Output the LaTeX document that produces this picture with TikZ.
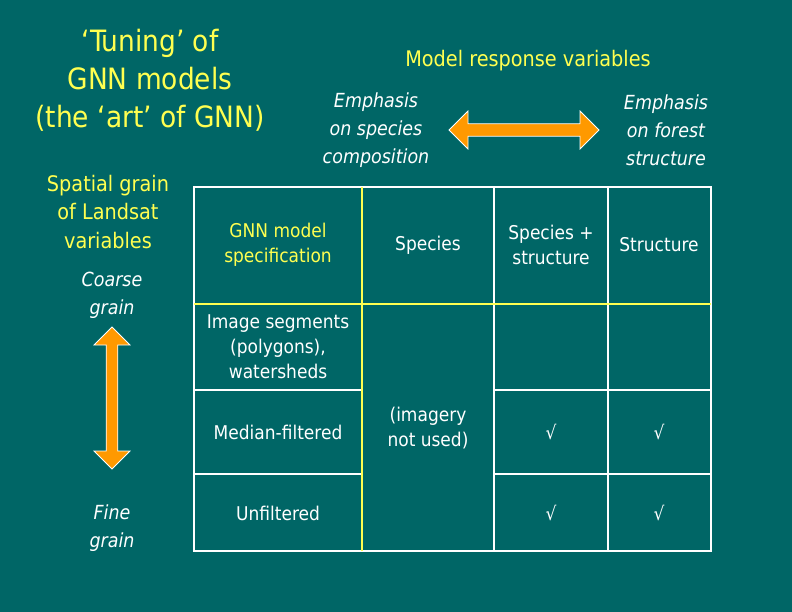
\documentclass[tikz,border=0pt]{standalone}
\usepackage{fontspec}
\setmainfont{DejaVu Sans Condensed}
\usetikzlibrary{shapes.arrows}
\definecolor{bg}{RGB}{0,102,102}
\definecolor{yl}{RGB}{255,255,80}
\definecolor{og}{RGB}{255,153,0}
\begin{document}
\begin{tikzpicture}[x=1bp,y=-1bp,
  t/.style={align=center,font=\fontsize{19}{25}\selectfont,text=white},
  ty/.style={t,text=yl},
  it/.style={align=center,font=\fontsize{19.5}{28}\selectfont\itshape,text=white},
  wl/.style={white,line width=1.6bp},
  yln/.style={yl,line width=1.6bp}]
\fill[bg] (0,0) rectangle (792,612);
\useasboundingbox (0,0) rectangle (792,612);
\node[ty,font=\fontsize{29.5}{38}\selectfont] (title) at (150,80) {‘Tuning’ of\\GNN models\\(the ‘art’ of GNN)};
\node[ty,font=\fontsize{21.5}{28}\selectfont] (mrv) at (528,61) {Model response variables};
\node[it] (es) at (376,130) {Emphasis\\on species\\composition};
\node[it] (ef) at (666,130) {Emphasis\\on forest\\structure};
\node[ty,font=\fontsize{21.5}{29}\selectfont] (sg) at (108,212) {Spatial grain\\of Landsat\\variables};
\node[it] (cg) at (112,295) {Coarse\\grain};
\node[it] (fg) at (112,528) {Fine\\grain};
\node[single arrow,double arrow,fill=og,draw=white,line width=0.8bp,minimum width=38bp,double arrow head extend=5bp,minimum height=150bp,inner sep=2bp] (ha) at (524,130) {};
\node[single arrow,double arrow,fill=og,draw=white,line width=0.8bp,minimum width=36bp,double arrow head extend=5bp,minimum height=142bp,inner sep=2bp,rotate=90] (va) at (112,398) {};
% grid
\draw[wl] (194,187) rectangle (711,551);
\draw[wl] (494,187) -- (494,551);
\draw[wl] (608,187) -- (608,551);
\draw[wl] (194,390) -- (362,390) (494,390) -- (711,390);
\draw[wl] (194,474) -- (362,474) (494,474) -- (711,474);
\draw[yln] (194,304) -- (711,304);
\draw[yln] (362,187) -- (362,551);
% cells
\node[ty] (h1) at (278,245) {GNN model\\specification};
\node[t] (h2) at (428,245) {Species};
\node[t] (h3) at (551,245) {Species +\\structure};
\node[t] (h4) at (659,245) {Structure};
\node[t] (r1) at (278,347) {Image segments\\(polygons),\\watersheds};
\node[t] (r2) at (278,432) {Median-filtered};
\node[t] (r3) at (278,513) {Unfiltered};
\node[t] (nu) at (428,428) {(imagery\\not used)};
\node[t] (c1) at (551,432) {√};
\node[t] (c2) at (659,432) {√};
\node[t] (c3) at (551,513) {√};
\node[t] (c4) at (659,513) {√};
\end{tikzpicture}
\end{document}
